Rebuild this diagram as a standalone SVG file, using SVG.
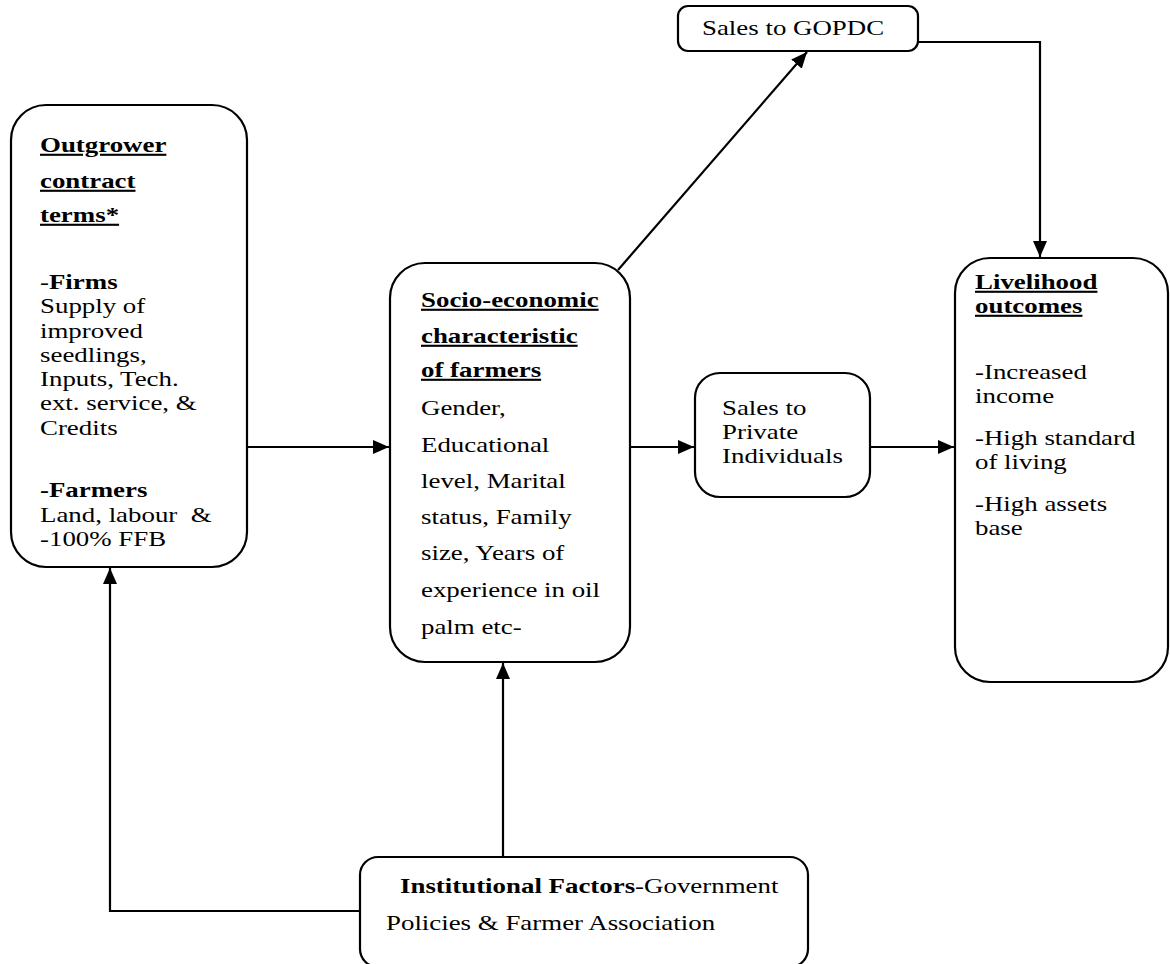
<svg xmlns="http://www.w3.org/2000/svg" width="1170" height="964" viewBox="0 0 1170 964">
<defs>
<style>
.box{fill:#fff;stroke:#000;stroke-width:2.2}
.c{fill:none;stroke:#000;stroke-width:2.2}
text{font-family:"Liberation Serif","Times New Roman",serif;font-size:21px;fill:#000}
.b{font-weight:bold}
.u{text-decoration:underline}
</style>
<marker id="ah" viewBox="0 0 16 14" refX="16" refY="7" markerWidth="16" markerHeight="14" markerUnits="userSpaceOnUse" orient="auto">
<path d="M0,0 L16,7 L0,14 Z" fill="#000"/>
</marker>
</defs>
<rect width="1170" height="964" fill="#fff"/>
<g id="connectors">
<path class="c" d="M247,447 H389" marker-end="url(#ah)"/>
<path class="c" d="M630,447 H694" marker-end="url(#ah)"/>
<path class="c" d="M870,447 H954" marker-end="url(#ah)"/>
<path class="c" d="M618,270 L807,52" marker-end="url(#ah)"/>
<path class="c" d="M918,42 H1040 V257" marker-end="url(#ah)"/>
<path class="c" d="M503,857 V663" marker-end="url(#ah)"/>
<path class="c" d="M360,911 H110 V568" marker-end="url(#ah)"/>
</g>
<g id="outgrower">
<rect class="box" x="11" y="105" width="236" height="462" rx="35"/>
<text transform="translate(40,0) scale(1.28,1)">
<tspan class="b u" x="0" y="152">Outgrower</tspan>
<tspan class="b u" x="0" y="188">contract</tspan>
<tspan class="b u" x="0" y="222">terms*</tspan>
<tspan x="0" y="289">-<tspan class="b">Firms</tspan></tspan>
<tspan x="0" y="313">Supply of</tspan>
<tspan x="0" y="338">improved</tspan>
<tspan x="0" y="362">seedlings,</tspan>
<tspan x="0" y="386">Inputs, Tech.</tspan>
<tspan x="0" y="410">ext. service, &amp;</tspan>
<tspan x="0" y="435">Credits</tspan>
<tspan class="b" x="0" y="497">-Farmers</tspan>
<tspan x="0" y="522" xml:space="preserve">Land, labour  &amp;</tspan>
<tspan x="0" y="546">-100% FFB</tspan>
</text>
</g>
<g id="socio">
<rect class="box" x="390" y="263" width="240" height="399" rx="35"/>
<text transform="translate(421,0) scale(1.28,1)">
<tspan class="b u" x="0" y="307">Socio-economic</tspan>
<tspan class="b u" x="0" y="343">characteristic</tspan>
<tspan class="b u" x="0" y="377">of farmers</tspan>
<tspan x="0" y="415">Gender,</tspan>
<tspan x="0" y="452">Educational</tspan>
<tspan x="0" y="488">level, Marital</tspan>
<tspan x="0" y="524">status, Family</tspan>
<tspan x="0" y="560">size, Years of</tspan>
<tspan x="0" y="597">experience in oil</tspan>
<tspan x="0" y="634">palm etc-</tspan>
</text>
</g>
<g id="gopdc">
<rect class="box" x="678" y="6" width="240" height="45" rx="10"/>
<text transform="translate(702,0) scale(1.28,1)"><tspan x="0" y="35">Sales to GOPDC</tspan></text>
</g>
<g id="private">
<rect class="box" x="695" y="373" width="175" height="124" rx="25"/>
<text transform="translate(722,0) scale(1.28,1)">
<tspan x="0" y="415">Sales to</tspan>
<tspan x="0" y="439">Private</tspan>
<tspan x="0" y="463">Individuals</tspan>
</text>
</g>
<g id="livelihood">
<rect class="box" x="955" y="258" width="213" height="424" rx="35"/>
<text transform="translate(975,0) scale(1.28,1)">
<tspan class="b u" x="0" y="289">Livelihood</tspan>
<tspan class="b u" x="0" y="313">outcomes</tspan>
<tspan x="0" y="379">-Increased</tspan>
<tspan x="0" y="403">income</tspan>
<tspan x="0" y="445">-High standard</tspan>
<tspan x="0" y="469">of living</tspan>
<tspan x="0" y="511">-High assets</tspan>
<tspan x="0" y="535">base</tspan>
</text>
</g>
<g id="institutional">
<rect class="box" x="360" y="857" width="448" height="110" rx="18"/>
<text transform="translate(400,0) scale(1.28,1)"><tspan x="0" y="893"><tspan class="b">Institutional Factors</tspan>-Government</tspan></text>
<text transform="translate(386,0) scale(1.28,1)"><tspan x="0" y="930">Policies &amp; Farmer Association</tspan></text>
</g>
</svg>
